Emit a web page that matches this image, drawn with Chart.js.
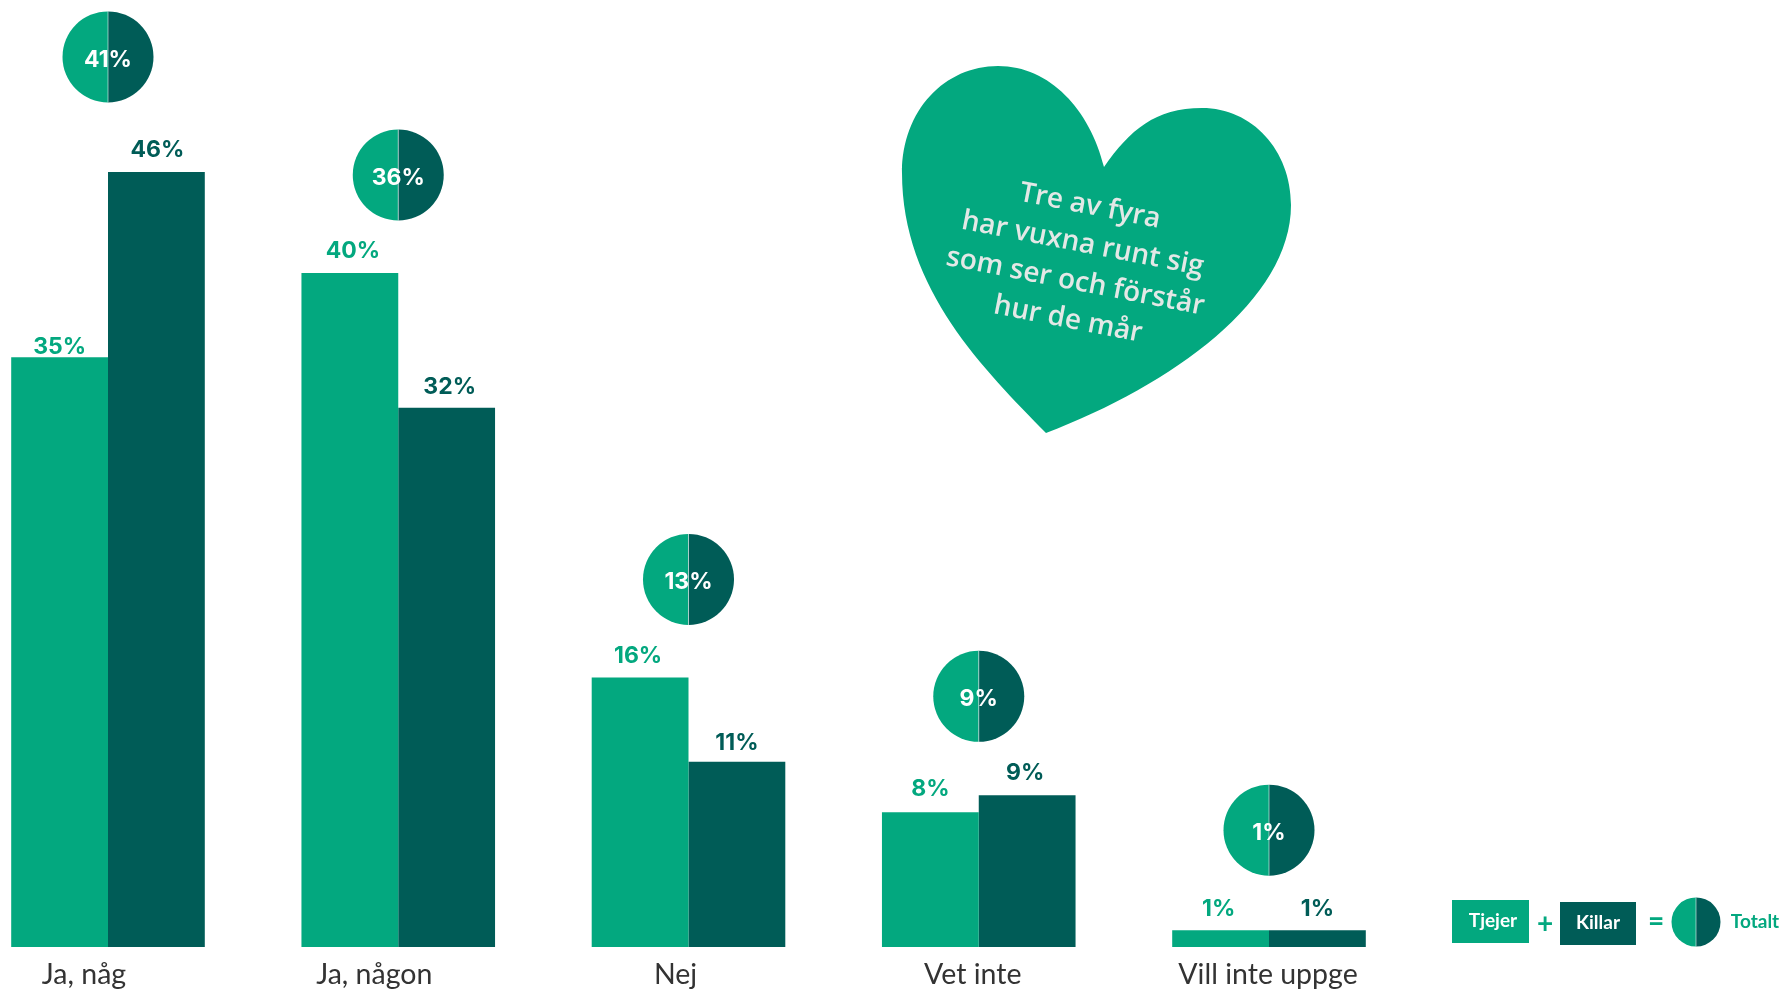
<!DOCTYPE html>
<html lang="sv">
<head>
<meta charset="utf-8">
<title>Vuxna runt sig</title>
<script src="https://cdn.jsdelivr.net/npm/chart.js@4/dist/chart.umd.min.js"></script>
<style>
    html, body { margin: 0; padding: 0; background: #ffffff; }
    canvas { display: block; }
</style>
</head>
<body>
<canvas id="barChart" width="1783" height="992"></canvas>
<script>
const categories = ['Ja, någ', 'Ja, någon', 'Nej', 'Vet inte', 'Vill inte uppge'];
const girls = [35, 40, 16, 8, 1];
const boys = [46, 32, 11, 9, 1];
const totals = [41, 36, 13, 9, 1];
const heartLines = ['Tre av fyra', 'har vuxna runt sig', 'som ser och förstår', 'hur de mår'];

const green = '#03a87f';
const darkGreen = '#005c57';
const labelFont = '"Lato", sans-serif';

// Nudges for labels around the bars, in pixels
const categoryShift = [-24, -24, -13, -6, -1];
const girlsShift = [0, 3, -2, 0, -2];
const boysShift = [1, 3, 0, -2, 0];
const girlsGap = [10, 22, 21, 23, 21];
const boysGap = [22, 21, 19, 22, 21];
const badgeGap = [115, 98, 98, 99, 100];

function centeredText(ctx, text, x, y, font, color) {
    ctx.font = font;
    ctx.fillStyle = color;
    ctx.textAlign = 'center';
    ctx.textBaseline = 'middle';
    ctx.fillText(text, x, y);
}

function splitCircle(ctx, x, y, r) {
    ctx.fillStyle = green;
    ctx.beginPath();
    ctx.arc(x, y, r, Math.PI / 2, Math.PI * 1.5);
    ctx.fill();
    ctx.fillStyle = darkGreen;
    ctx.beginPath();
    ctx.arc(x, y, r, -Math.PI / 2, Math.PI / 2);
    ctx.fill();
    ctx.strokeStyle = 'rgba(255,255,255,0.55)';
    ctx.lineWidth = 1;
    ctx.beginPath();
    ctx.moveTo(x, y - r);
    ctx.lineTo(x, y + r);
    ctx.stroke();
}

// Percent labels, total badges and category names
const barLabels = {
    id: 'barLabels',
    afterDatasetsDraw(chart) {
        const ctx = chart.ctx;
        const xScale = chart.scales.x;
        const girlBars = chart.getDatasetMeta(0).data;
        const boyBars = chart.getDatasetMeta(1).data;
        const valueFont = '700 23px "Inter", sans-serif';
        ctx.save();
        categories.forEach((name, i) => {
            const girl = girlBars[i];
            const boy = boyBars[i];
            centeredText(ctx, girls[i] + '%', girl.x + girlsShift[i], girl.y - girlsGap[i], valueFont, green);
            centeredText(ctx, boys[i] + '%', boy.x + boysShift[i], boy.y - boysGap[i], valueFont, darkGreen);

            const cx = xScale.getPixelForValue(i);
            const cy = Math.min(girl.y, boy.y) - badgeGap[i];
            splitCircle(ctx, cx, cy, 45.5);
            centeredText(ctx, totals[i] + '%', cx, cy + 3, '700 23px "Inter", sans-serif', '#ffffff');

            centeredText(ctx, name, cx + categoryShift[i], 975, '400 28.5px ' + labelFont, '#333333');
        });
        ctx.restore();
    }
};

// Heart with the rotated quote
const heartNote = {
    id: 'heartNote',
    afterDraw(chart) {
        const ctx = chart.ctx;
        ctx.save();
        ctx.fillStyle = green;
        ctx.beginPath();
        ctx.moveTo(1046, 433);
        ctx.bezierCurveTo(985, 370, 902, 290, 902, 173);
        ctx.bezierCurveTo(902, 110, 945, 66, 998, 66);
        ctx.bezierCurveTo(1050, 66, 1090, 110, 1104, 167);
        ctx.bezierCurveTo(1130, 130, 1155, 108, 1202, 108);
        ctx.bezierCurveTo(1252, 108, 1291, 150, 1291, 205);
        ctx.bezierCurveTo(1291, 300, 1172, 385, 1046, 433);
        ctx.closePath();
        ctx.fill();

        ctx.translate(1079, 263);
        ctx.rotate(11 * Math.PI / 180);
        heartLines.forEach((line, i) => {
            centeredText(ctx, line, 0, (i - 1.5) * 38.5, '600 28px "Open Sans", sans-serif', '#e3e8e6');
        });
        ctx.restore();
    }
};

// Tjejer + Killar = Totalt key
const sumKey = {
    id: 'sumKey',
    afterDraw(chart) {
        const ctx = chart.ctx;
        const keyFont = '700 19px ' + labelFont;
        ctx.save();
        ctx.fillStyle = green;
        ctx.fillRect(1452, 900, 77, 43);
        ctx.fillStyle = darkGreen;
        ctx.fillRect(1560, 902, 76, 43);
        centeredText(ctx, 'Tjejer', 1493, 921, keyFont, '#ffffff');
        centeredText(ctx, 'Killar', 1598, 923, keyFont, '#ffffff');
        centeredText(ctx, '+', 1545, 924, '700 28px ' + labelFont, green);
        centeredText(ctx, '=', 1656, 922, '700 28px ' + labelFont, green);
        splitCircle(ctx, 1696, 922, 24.5);
        centeredText(ctx, 'Totalt', 1755, 922, keyFont, green);
        ctx.restore();
    }
};

const barCtx = document.getElementById('barChart').getContext('2d');
new Chart(barCtx, {
    type: 'bar',
    data: {
        labels: categories,
        datasets: [{
            label: 'Tjejer',
            data: girls,
            backgroundColor: green,
            clip: false
        }, {
            label: 'Killar',
            data: boys,
            backgroundColor: darkGreen,
            clip: false
        }]
    },
    options: {
        responsive: false,
        animation: false,
        categoryPercentage: 0.667,
        barPercentage: 1,
        layout: {
            padding: { left: 108, right: 514, top: 0, bottom: 45 }
        },
        plugins: {
            legend: { display: false },
            tooltip: { enabled: false }
        },
        scales: {
            x: { display: false, offset: false, grid: { display: false } },
            y: { display: false, min: 0, max: 56.2, grid: { display: false } }
        }
    },
    plugins: [barLabels, heartNote, sumKey]
});
</script>
</body>
</html>
